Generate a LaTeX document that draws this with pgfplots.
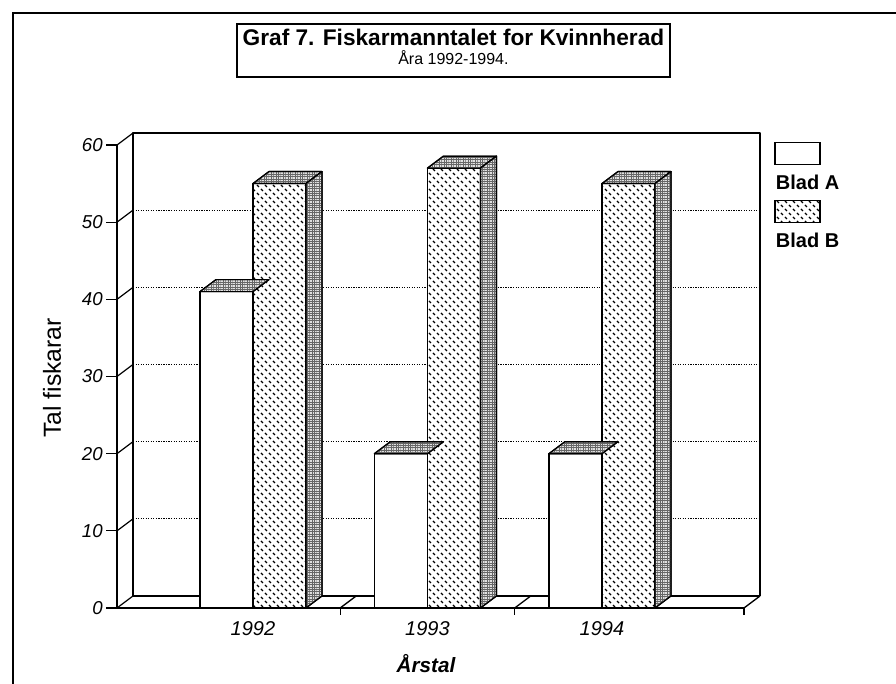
\documentclass[border=0pt]{standalone}
\usepackage{fontspec}
\setmainfont{Liberation Sans}
\usepackage{pgfplots}
\pgfplotsset{compat=1.18}
\usepackage{pgfplotstable}
\usetikzlibrary{patterns}

\pgfdeclarepatternformonly{dashweave}{\pgfqpoint{-1pt}{-1pt}}{\pgfqpoint{7pt}{7pt}}{\pgfqpoint{6pt}{6pt}}{%
  \pgfsetlinewidth{0.9pt}%
  \pgfpathmoveto{\pgfqpoint{0.75pt}{2.25pt}}\pgfpathlineto{\pgfqpoint{2.25pt}{0.75pt}}%
  \pgfpathmoveto{\pgfqpoint{3.75pt}{5.25pt}}\pgfpathlineto{\pgfqpoint{5.25pt}{3.75pt}}%
  \pgfusepath{stroke}}

\pgfdeclarepatternformonly{finegrid}{\pgfqpoint{-0.2pt}{-0.2pt}}{\pgfqpoint{2pt}{2pt}}{\pgfqpoint{1.8pt}{1.8pt}}{%
  \pgfsetlinewidth{0.5pt}%
  \pgfpathmoveto{\pgfqpoint{0pt}{0pt}}\pgfpathlineto{\pgfqpoint{0pt}{1.8pt}}%
  \pgfusepath{stroke}%
  \pgfsetlinewidth{0.3pt}%
  \pgfpathmoveto{\pgfqpoint{0pt}{0.9pt}}\pgfpathlineto{\pgfqpoint{1.8pt}{0.9pt}}%
  \pgfusepath{stroke}}

\pgfdeclareplotmark{nothing}{}

\pgfplotstableread{
x A B
0 41 55
1 20 57
2 20 55
}\datatable

\tikzset{topface/.style={fill=black!12, draw=black, line width=0.9pt, line join=round,
  postaction={pattern=finegrid, pattern color=black!60}}}

\pgfplotsset{mylegend/.style={legend image code/.code={%
  \draw[##1, overlay] (-0.75pt,13.35pt) rectangle (33pt,29.85pt);}}}

\begin{document}
\begin{tikzpicture}[x=1pt,y=1pt]
\path[use as bounding box] (0,0) rectangle (672,513);
% page frame
\draw[line width=0.9pt] (9.75,0) -- (9.75,503.25) -- (672,503.25);
% title box
\draw[line width=0.9pt] (177.75,455.25) rectangle (502.5,495);
\node[anchor=base, inner sep=0pt, font=\bfseries\fontsize{17}{18}\selectfont] at (340.1,478.5) {Graf 7. Fiskarmanntalet for Kvinnherad};
\node[anchor=base, inner sep=0pt, font=\fontsize{12}{13}\selectfont] at (340.1,464.25) {Åra 1992-1994.};

\begin{axis}[
  at={(87.75pt,57pt)}, anchor=south west, scale only axis,
  width=470.25pt, height=347.25pt,
  xmin=-0.779, xmax=2.814, ymin=0, ymax=60,
  clip=false,
  axis x line*=bottom, axis y line*=left,
  axis line style={-, line width=1pt},
  ytick={0,10,20,30,40,50,60},
  tick align=outside, major tick length=8pt,
  tick style={line width=0.9pt, black},
  xtick={0,1,2}, xticklabels={1992,1993,1994},
  major x tick style={draw=none},
  /pgf/number format/assume math mode=true,
  yticklabel style={font=\itshape\fontsize{14}{15}\selectfont, inner xsep=2.5pt},
  xticklabel style={font=\itshape\fontsize{15}{16}\selectfont, anchor=base, yshift=-13pt},
  ylabel={Tal fiskarar},
  ylabel style={at={(axis description cs:-0.1037,0.497)}, anchor=center, font=\fontsize{18.5}{19}\selectfont},
  xlabel={Årstal},
  xlabel style={at={(axis description cs:0.4928,-0.1404)}, anchor=base, font=\bfseries\itshape\fontsize{15.5}{16}\selectfont},
  legend style={draw=none, fill=none, at={(axis description cs:1.051,0.935)}, anchor=north west,
    inner sep=0pt, outer sep=0pt, row sep=32.7pt,
    font=\bfseries\fontsize{15}{15}\selectfont,
    nodes={inner sep=0pt, text height=10.8pt, text depth=0pt}},
  legend cell align=left,
]
% back wall grid
\pgfplotsinvokeforeach{10,20,30,40,50}{
  \draw[densely dotted, line width=0.9pt] ([shift={(12pt,9pt)}]axis cs:-0.779,#1) -- ([shift={(12pt,9pt)}]axis cs:2.814,#1);
}
% connectors from front ticks to back wall
\pgfplotsinvokeforeach{0,10,20,30,40,50,60}{
  \draw[line width=0.9pt] (axis cs:-0.779,#1) -- ++(12pt,9pt);
}
% back wall and floor
\draw[line width=1pt, line join=round] ([shift={(12pt,9pt)}]axis cs:-0.779,0) -- ([shift={(12pt,9pt)}]axis cs:-0.779,60) -- ([shift={(12pt,9pt)}]axis cs:2.814,60) -- ([shift={(12pt,9pt)}]axis cs:2.814,0);
\draw[line width=1pt] ([shift={(12pt,9pt)}]axis cs:-0.779,0) -- ([shift={(12pt,9pt)}]axis cs:2.814,0);
\pgfplotsinvokeforeach{0.5,1.5,2.814}{
  \draw[line width=1pt] (axis cs:#1,0) -- ++(12pt,9pt);
  \draw[line width=0.9pt] (axis cs:#1,0) -- ++(0pt,-5.5pt);
}

% Blad A
\addplot[ybar, bar width=0.304, bar shift=-0.152, draw=black, line width=1pt, fill=white, mylegend]
  table[x=x, y=A] {\datatable};
\addlegendentry{Blad A}
\addplot[forget plot, only marks, mark=nothing, scatter,
  visualization depends on={\thisrow{A} \as \ry},
  scatter/@pre marker code/.code={%
    \filldraw[topface] (-39.75pt,0pt) -- (0pt,0pt) -- (12pt,9pt) -- (-27.75pt,9pt) -- cycle;
  },
  scatter/@post marker code/.code={}]
  table[x=x, y=A] {\datatable};

% Blad B
\addplot[ybar, bar width=0.304, bar shift=0.152, draw=black, line width=1pt, fill=white,
  postaction={pattern=dashweave}, mylegend]
  table[x=x, y=B] {\datatable};
\addlegendentry{Blad B}
\addplot[forget plot, only marks, mark=nothing, scatter,
  visualization depends on={\thisrow{B} \as \ry},
  scatter/@pre marker code/.code={%
    \pgfmathsetmacro\hh{\ry*5.7875}%
    \pgfmathsetmacro\hb{9-\hh}%
    \filldraw[topface] (0pt,0pt) -- (39.75pt,0pt) -- (51.75pt,9pt) -- (12pt,9pt) -- cycle;
    \filldraw[topface] (39.75pt,0pt) -- (51.75pt,9pt) -- (51.75pt,\hb pt) -- (39.75pt,-\hh pt) -- cycle;
  },
  scatter/@post marker code/.code={}]
  table[x=x, y=B] {\datatable};
\end{axis}
\end{tikzpicture}
\end{document}
